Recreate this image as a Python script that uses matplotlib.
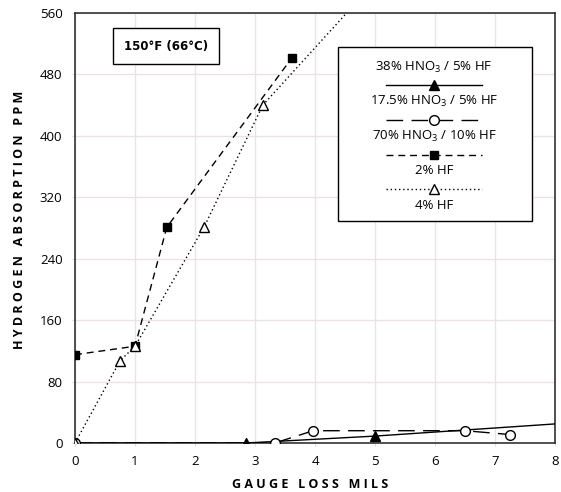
import matplotlib
matplotlib.use("Agg")
import matplotlib.pyplot as plt
from matplotlib.patches import Rectangle

plt.rcParams['font.family'] = ['Open Sans', 'DejaVu Sans']
plt.rcParams['mathtext.fontset'] = 'custom'
plt.rcParams['mathtext.rm'] = 'Open Sans'
plt.rcParams['mathtext.it'] = 'Open Sans'

# gauge loss (mils) vs hydrogen absorption (ppm), 150 F
x_38 = [0, 2.85, 5.0, 8.6]
y_38 = [0, 0, 9, 28]

x_175 = [0, 3.33, 3.97, 6.5, 7.25]
y_175 = [0, 0, 16, 16, 11]

x_70 = [0, 1.0, 1.53, 3.62]
y_70 = [115, 126, 281, 502]

x_2hf = [0, 0.75, 1.0, 2.15, 3.13, 4.9]
y_2hf = [0, 107, 126, 281, 440, 592]

legend_labels = ["38% HNO$_3$ / 5% HF", "17.5% HNO$_3$ / 5% HF",
                 "70% HNO$_3$ / 10% HF", "2% HF", "4% HF"]

fig = plt.figure(figsize=(5.61, 4.92), dpi=100)
ax = fig.add_axes([0.1337, 0.0996, 0.8556, 0.874])

ax.plot(x_38, y_38, color='black', lw=1.0, marker='^', ms=6.5, mfc='black', mec='black', zorder=4)
ax.plot(x_175, y_175, color='black', lw=1.0, dashes=(12, 6), marker='o', ms=7, mfc='white',
        mec='black', mew=1.0, zorder=4)
ax.plot(x_70, y_70, color='black', lw=1.0, dashes=(5, 3.5), marker='s', ms=6, mfc='black',
        mec='black', zorder=4)
ax.plot(x_2hf, y_2hf, color='black', lw=1.0, dashes=(1, 2), marker='^', ms=7, mfc='white',
        mec='black', mew=1.0, zorder=4)

ax.set_xlim(0, 8)
ax.set_ylim(0, 560)
ax.set_xticks(range(0, 9))
ax.set_yticks(range(0, 561, 80))
ax.tick_params(labelsize=9.5, length=2, color='#dddddd', pad=7)
ax.grid(True, color='#ece2e2', lw=1.0)
ax.set_axisbelow(True)
for s in ax.spines.values():
    s.set_color('#333333')
    s.set_linewidth(1.2)

ax.set_xlabel("G A U G E   L O S S   M I L S", fontsize=9, fontweight='bold')
ax.set_ylabel("H Y D R O G E N   A B S O R P T I O N   P P M", fontsize=9, fontweight='bold')
ax.xaxis.set_label_coords(0.49, -0.082)
ax.yaxis.set_label_coords(-0.103, 0.519)

# temperature box
ax.text(0.19, 0.923, "150°F (66°C)", transform=ax.transAxes, ha='center', va='center',
        fontsize=8.5, fontweight='bold', family='DejaVu Sans', zorder=6,
        bbox=dict(boxstyle='square,pad=0.95', fc='white', ec='black', lw=1.0))

# legend box, labels above line samples
ax.add_patch(Rectangle((0.548, 0.516), 0.404, 0.405, transform=ax.transAxes, fc='white',
                       ec='black', lw=1.0, zorder=6))
cx = 0.748
text_y = [0.873, 0.795, 0.712, 0.633, 0.552]
line_y = [0.833, 0.751, 0.670, 0.591]
half = 0.1
styles = [
    dict(ls='-', marker='^', ms=6.5, mfc='black'),
    dict(dashes=(12, 6), marker='o', ms=7, mfc='white'),
    dict(dashes=(5, 3.5), marker='s', ms=6, mfc='black'),
    dict(dashes=(1, 2), marker='^', ms=7, mfc='white'),
]
for lab, ty in zip(legend_labels, text_y):
    ax.text(cx, ty, lab, transform=ax.transAxes, ha='center', va='center', fontsize=9.5, zorder=7)
for st, ly in zip(styles, line_y):
    ax.plot([cx - half, cx + half], [ly, ly], transform=ax.transAxes, color='black', lw=1.0,
            zorder=7, clip_on=False,
            **{k: v for k, v in st.items() if k not in ('marker', 'ms', 'mfc')})
    ax.plot([cx], [ly], transform=ax.transAxes, ls='none', marker=st['marker'], ms=st['ms'],
            mfc=st['mfc'], mec='black', mew=1.0, zorder=8, clip_on=False)

fig.savefig("out.png", dpi=100)
